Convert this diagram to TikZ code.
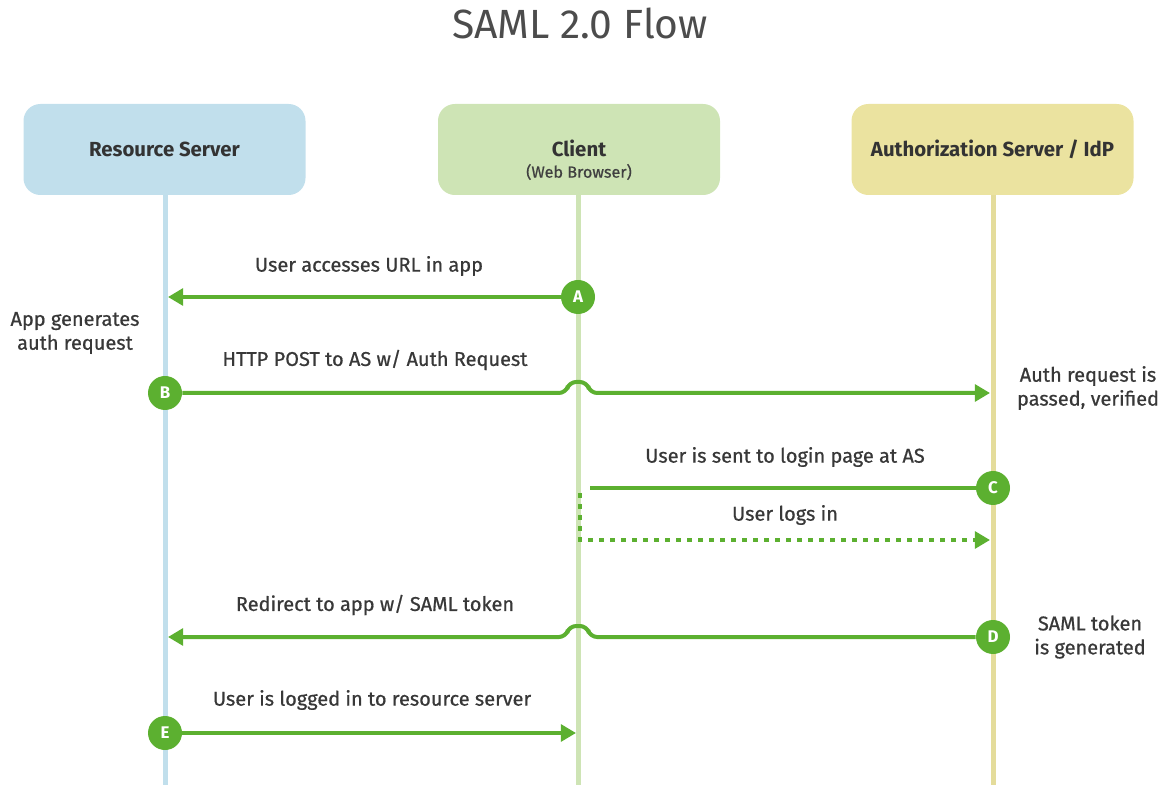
\documentclass[tikz,border=0pt]{standalone}
\usepackage{fontspec}
\setmainfont{Fira Sans}
\newfontfamily\lblfont{Fira Sans}[FakeBold=0.7]
\usetikzlibrary{arrows.meta}

\definecolor{flowgreen}{HTML}{5CB030}
\definecolor{rsblue}{HTML}{C1DFEC}
\definecolor{clgreen}{HTML}{CEE4B5}
\definecolor{asyellow}{HTML}{EBE3A0}

\begin{document}
\begin{tikzpicture}[x=0.025cm, y=0.025cm,
    actor/.style={rounded corners=12, minimum width=282*0.025cm, minimum height=91*0.025cm},
    actortext/.style={font=\fontsize{14.5}{17}\selectfont\bfseries, text=black!80, align=center},
    lifeline/.style={line width=5*0.025cm},
    msg/.style={draw=flowgreen, line width=4*0.025cm, -{Triangle[length=0.38cm, width=0.42cm]}},
    stepmark/.style={circle, fill=flowgreen, text=white, minimum size=34*0.025cm, inner sep=0pt,
        font=\fontsize{12}{14}\selectfont\bfseries},
    lbl/.style={font=\lblfont\fontsize{14.2}{17}\selectfont, text=black!78, align=center}]

\useasboundingbox (0,0) rectangle (1168,789);

% title
\node[font=\fontsize{29}{34}\selectfont, text=black!70] (title) at (580,766) {SAML 2.0 Flow};

% actors
\node[actor, fill=rsblue] (rs) at (164.5,639.5) {};
\node[actor, fill=clgreen] (cl) at (579,639.5) {};
\node[actor, fill=asyellow] (as) at (992.5,639.5) {};
\node[actortext] (rsName) at (rs) {Resource Server};
\node[actortext] (clName) at ([yshift=1*0.025cm]cl) {Client};
\node[font=\lblfont\fontsize{11.5}{13}\selectfont, text=black!75] (clSub) at (579,617) {(Web Browser)};
\node[actortext] (asName) at (as) {Authorization Server / IdP};

% lifelines
\coordinate (rsEnd) at (165,4);
\coordinate (clEnd) at (578,4);
\coordinate (asEnd) at (993,4);
\draw[lifeline, rsblue] (rs.south -| rsEnd) -- (rsEnd);
\draw[lifeline, clgreen] (cl.south -| clEnd) -- (clEnd);
\draw[lifeline, asyellow!97!black] (as.south -| asEnd) -- (asEnd);

% step markers
\node[stepmark] (A) at (578,492) {A};
\node[stepmark] (B) at (165,396) {B};
\node[stepmark] (C) at (993,301) {C};
\node[stepmark] (D) at (993,152) {D};
\node[stepmark] (E) at (165,56) {E};

% message ends
\coordinate (aEnd) at (168,492);
\coordinate (bEnd) at (990,396);
\coordinate (cEnd) at (590,301);
\coordinate (loginTop) at (580,296);
\coordinate (loginCorner) at (580,249);
\coordinate (loginEnd) at (990,249);
\coordinate (dEnd) at (168,152);
\coordinate (eEnd) at (576,56);

% messages
\draw[msg] (A) -- (aEnd);
\draw[msg, rounded corners=5] (B) -- (566,396) -- (569,407) -- (587,407) -- (590,396) -- (bEnd);
\draw[msg, -] (C) -- (cEnd);
\draw[msg, dash pattern=on 5*0.025cm off 6*0.025cm] (loginTop) -- (loginCorner) -- (loginEnd);
\draw[msg, rounded corners=5] (D) -- (590,152) -- (587,163) -- (569,163) -- (566,152) -- (dEnd);
\draw[msg] (E) -- (eEnd);

% labels
\node[lbl] (aLbl) at (369,523) {User accesses URL in app};
\node[lbl] (bLbl) at (375,429) {HTTP POST to AS w/ Auth Request};
\node[lbl] (cLbl) at (785,332) {User is sent to login page at AS};
\node[lbl] (loginLbl) at (785,274) {User logs in};
\node[lbl] (dLbl) at (375,184) {Redirect to app w/ SAML token};
\node[lbl] (eLbl) at (372,89) {User is logged in to resource server};

% side notes
\node[lbl] (bNote) at (75,456) {App generates\\auth request};
\node[lbl] (asNote) at (1088,401) {Auth request is\\passed, verified};
\node[lbl] (dNote) at (1090,152) {SAML token\\is generated};
\end{tikzpicture}
\end{document}
